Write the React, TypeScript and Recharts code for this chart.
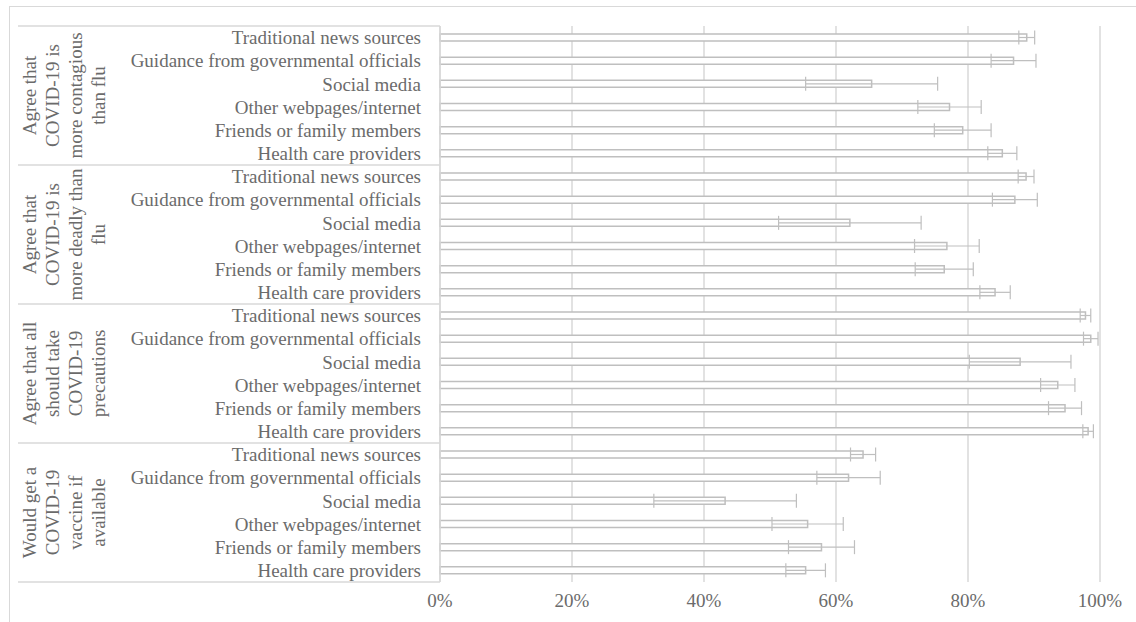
import React from "react"
import { BarChart, Bar, XAxis, YAxis, CartesianGrid, ErrorBar } from "recharts"

const sources = [
  "Traditional news sources",
  "Guidance from governmental officials",
  "Social media",
  "Other webpages/internet",
  "Friends or family members",
  "Health care providers",
]

const groupLabels = [
  ["Agree that", "COVID-19 is", "more contagious", "than flu"],
  ["Agree that", "COVID-19 is", "more deadly than", "flu"],
  ["Agree that all", "should take", "COVID-19", "precautions"],
  ["Would get a", "COVID-19", "vaccine if", "available"],
]

const contagiousValues = [88.9, 86.9, 65.4, 77.2, 79.2, 85.2]
const contagiousErrors = [1.2, 3.4, 10.0, 4.8, 4.3, 2.2]
const deadlyValues = [88.8, 87.1, 62.1, 76.8, 76.4, 84.1]
const deadlyErrors = [1.2, 3.4, 10.8, 4.9, 4.4, 2.3]
const precautionValues = [97.8, 98.6, 87.9, 93.6, 94.7, 98.2]
const precautionErrors = [0.8, 1.1, 7.7, 2.6, 2.5, 0.8]
const vaccineValues = [64.1, 61.9, 43.2, 55.7, 57.8, 55.4]
const vaccineErrors = [1.9, 4.8, 10.8, 5.4, 5.0, 3.0]

const xTicks = [0, 20, 40, 60, 80, 100]

const groupValues = [contagiousValues, deadlyValues, precautionValues, vaccineValues]
const groupErrors = [contagiousErrors, deadlyErrors, precautionErrors, vaccineErrors]

const rows = groupValues.flatMap((vals, g) =>
  sources.map((s, i) => ({ id: `g${g}-${i}`, source: s, group: g, pos: i, value: vals[i], err: groupErrors[g][i] }))
)
const rowById: Record<string, (typeof rows)[number]> = {}
rows.forEach((r) => (rowById[r.id] = r))

const W = 1136
const H = 622
const MARGIN = { top: 26, right: 36, bottom: 10, left: 0 }
const X_AXIS_H = 30
const Y_AXIS_W = 440
const STEP = (H - MARGIN.top - MARGIN.bottom - X_AXIS_H) / rows.length
const FONT = `"Liberation Serif", "Times New Roman", Tinos, serif`
const TEXT = "#6b6b6b"
const LINE = "#d9d9d9"
const textStyle = { fontFamily: FONT, fontSize: 19 }

function SourceTick(props: any) {
  const { y, payload } = props
  const row = rowById[payload.value]
  if (!row) return null
  const labelRight = Y_AXIS_W - 19
  const lines = groupLabels[row.group]
  const cx = 64
  const cy = y + 2.5 * STEP
  return (
    <g>
      <text x={labelRight} y={y} dy="0.35em" textAnchor="end" fill={TEXT} style={textStyle}>
        {row.source}
      </text>
      {row.pos === 0 && (
        <>
          <line x1={18} x2={Y_AXIS_W} y1={y - STEP / 2} y2={y - STEP / 2} stroke={LINE} strokeWidth={1.5} />
          <text transform={`rotate(-90, ${cx}, ${cy})`} x={cx} y={cy} textAnchor="middle" fill={TEXT} style={textStyle}>
            {lines.map((l, k) => (
              <tspan key={k} x={cx} dy={k === 0 ? `${-(lines.length - 1) / 2 * 1.2 + 0.35}em` : "1.2em"}>
                {l}
              </tspan>
            ))}
          </text>
        </>
      )}
      {row.group === groupLabels.length - 1 && row.pos === sources.length - 1 && (
        <line x1={18} x2={Y_AXIS_W} y1={y + STEP / 2} y2={y + STEP / 2} stroke={LINE} strokeWidth={1.5} />
      )}
    </g>
  )
}

export default function App() {
  return (
    <div style={{ position: "absolute", left: 0, top: 0, width: W, height: H, overflow: "hidden", background: "#fff", fontFamily: FONT }}>
      <div style={{ position: "absolute", left: 9, top: 6, width: W, height: H, borderTop: `1px solid ${LINE}`, borderLeft: `1px solid ${LINE}` }} />
      <div style={{ position: "absolute", left: 0, top: 0 }}>
        <BarChart width={W} height={H} data={rows} layout="vertical" margin={MARGIN} style={{ fontFamily: FONT }}>
          <CartesianGrid horizontal={false} stroke={LINE} strokeWidth={1.5} />
          <XAxis
            type="number"
            domain={[0, 100]}
            ticks={xTicks}
            tickFormatter={(v: number) => `${v}%`}
            axisLine={false}
            tickLine={false}
            tickMargin={6}
            height={X_AXIS_H}
            tick={{ fill: TEXT, fontSize: 19, style: textStyle }}
          />
          <YAxis
            type="category"
            dataKey="id"
            width={Y_AXIS_W}
            interval={0}
            axisLine={{ stroke: LINE, strokeWidth: 1.5 }}
            tickLine={false}
            tick={SourceTick}
          />
          <Bar dataKey="value" fill="#ffffff" stroke="#bfbfbf" strokeWidth={1.5} barSize={7} isAnimationActive={false}>
            <ErrorBar dataKey="err" direction="x" width={7} stroke="#bfbfbf" strokeWidth={1.2} />
          </Bar>
        </BarChart>
      </div>
    </div>
  )
}
